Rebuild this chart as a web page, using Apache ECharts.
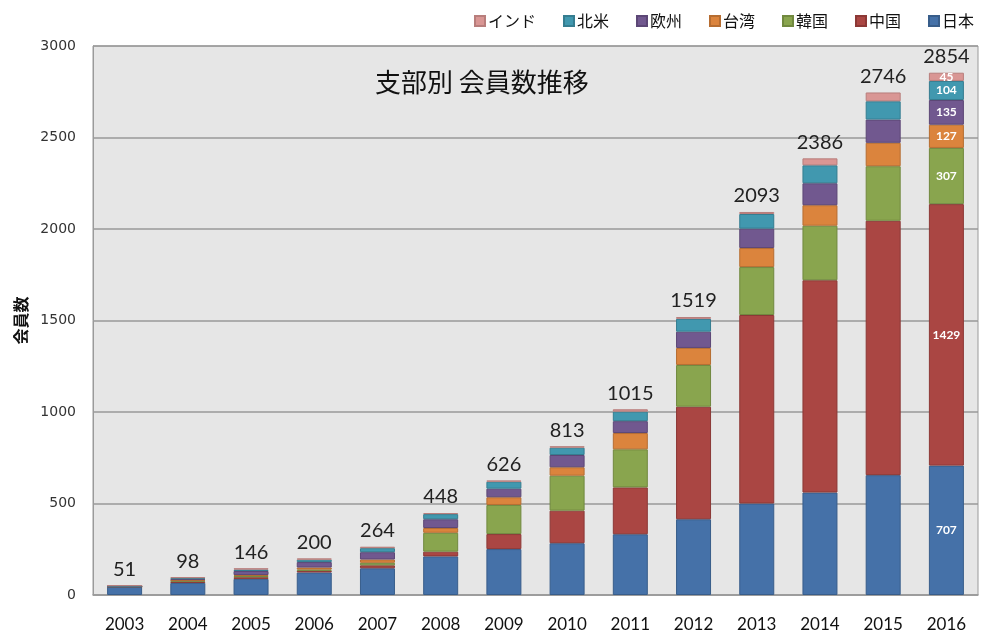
<!DOCTYPE html>
<html lang="ja">
<head>
    <meta charset="UTF-8">
    <script src="https://cdn.jsdelivr.net/npm/echarts@6/dist/echarts.min.js"></script>
    <title>支部別 会員数推移</title>
    <style>
        html, body { margin: 0; padding: 0; background: #fff; }
        #chart { width: 985px; height: 635px; }
    </style>
</head>
<body>
    <div id="chart"></div>
</body>
<script type="text/javascript">
    var years = ['2003','2004','2005','2006','2007','2008','2009','2010','2011','2012','2013','2014','2015','2016'];
    var japan  = [46, 66, 88, 123, 146, 211, 251, 283, 332, 414, 500, 560, 655, 707];
    var china  = [0, 8, 9, 9, 16, 26, 82, 178, 256, 615, 1030, 1160, 1390, 1429];
    var korea  = [0, 4, 7, 7, 14, 103, 159, 191, 208, 228, 262, 298, 298, 307];
    var taiwan = [0, 4, 5, 11, 18, 26, 42, 46, 89, 93, 104, 112, 128, 127];
    var europe = [0, 5, 22, 30, 40, 48, 47, 67, 65, 89, 106, 120, 127, 135];
    var namerica = [5, 5, 8, 13, 22, 28, 38, 40, 52, 70, 80, 98, 100, 104];
    var india  = [0, 6, 7, 7, 8, 6, 7, 8, 13, 10, 11, 38, 48, 45];
    var totals = [51, 98, 146, 200, 264, 448, 626, 813, 1015, 1519, 2093, 2386, 2746, 2854];
    var legendOrder = ['インド', '北米', '欧州', '台湾', '韓国', '中国', '日本'];

    var jp = '"Noto Sans CJK JP", sans-serif';
    var lastIdx = years.length - 1;

    function part(name, data, color, border) {
        return {
            name: name,
            type: 'bar',
            stack: 'all',
            barWidth: 35,
            data: data,
            itemStyle: { color: color, borderColor: border, borderWidth: 1 },
            label: {
                show: true,
                position: 'inside',
                color: '#fff',
                fontWeight: 'bold',
                fontSize: 12,
                fontFamily: 'Lato, sans-serif',
                formatter: function (p) { return p.dataIndex === lastIdx ? p.value : ''; }
            }
        };
    }

    var myChart = echarts.init(document.getElementById('chart'));
    var option = {
        backgroundColor: '#fff',
        animation: false,
        title: {
            text: '支部別 会員数推移',
            left: 370,
            top: 64,
            textStyle: { fontFamily: jp, fontSize: 26, fontWeight: 'normal', color: '#111' }
        },
        legend: {
            data: legendOrder,
            right: 6,
            top: 8,
            itemWidth: 10,
            itemHeight: 10,
            itemGap: 27,
            icon: 'rect',
            textStyle: { fontFamily: jp, fontSize: 16, color: '#111', padding: [0, 0, 0, -2] }
        },
        grid: {
            left: 93,
            right: 7,
            top: 46,
            bottom: 40,
            show: true,
            backgroundColor: '#e6e6e6',
            borderColor: '#9a9a9a',
            borderWidth: 1
        },
        xAxis: {
            type: 'category',
            data: years,
            axisLine: { lineStyle: { color: '#9a9a9a', width: 1.5 } },
            axisTick: { show: false },
            axisLabel: { fontFamily: 'Lato, sans-serif', fontSize: 17, color: '#111', margin: 21 }
        },
        yAxis: {
            type: 'value',
            min: 0,
            max: 3000,
            interval: 500,
            name: '会員数',
            nameLocation: 'middle',
            nameRotate: 90,
            nameGap: 64,
            nameTextStyle: { fontFamily: jp, fontSize: 16, fontWeight: 'bold', color: '#111' },
            axisLine: { show: true, lineStyle: { color: '#9a9a9a' } },
            axisTick: { show: false },
            axisLabel: {
                fontFamily: '"DejaVu Sans", sans-serif', fontSize: 14, color: '#333', margin: 17,
                formatter: function (v) { return String(v); }
            },
            splitLine: { lineStyle: { color: '#999', width: 1.5 } }
        },
        series: [
            part('日本', japan, '#4571a8', '#385d8a'),
            part('中国', china, '#aa4643', '#8c3836'),
            part('韓国', korea, '#89a54e', '#71893f'),
            part('台湾', taiwan, '#db843d', '#b66d31'),
            part('欧州', europe, '#71588f', '#5c4776'),
            part('北米', namerica, '#4198af', '#357d90'),
            part('インド', india, '#d99694', '#b87e7c'),
            {
                name: '合計',
                type: 'bar',
                barWidth: 35,
                barGap: '-100%',
                data: totals,
                itemStyle: { color: 'rgba(0,0,0,0)' },
                z: 1,
                label: {
                    show: true,
                    position: 'top',
                    distance: 6,
                    fontFamily: 'Lato, sans-serif',
                    fontSize: 20,
                    color: '#222'
                }
            }
        ]
    };
    myChart.setOption(option);
</script>
</html>
